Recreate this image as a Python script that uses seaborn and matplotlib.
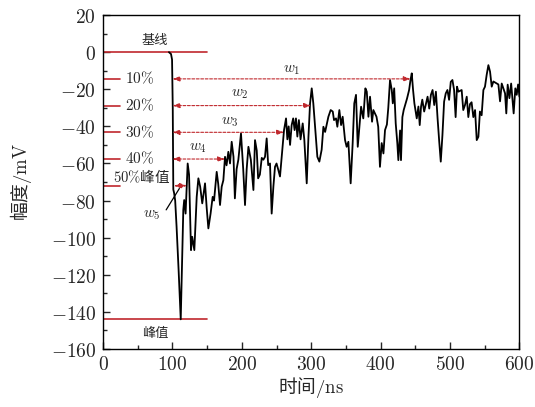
import numpy as np
import pandas as pd
import matplotlib
matplotlib.use("Agg")
import matplotlib.pyplot as plt
import seaborn as sns
from matplotlib.ticker import MultipleLocator, FuncFormatter

# signal (time in ns, amplitude in mV)
t_ns = [95, 98, 99.5, 100.5, 101.3, 102.5, 104, 106, 109, 112, 114, 115.7, 117, 119, 122, 124,
        126.8, 128.5, 131.6, 135, 137.4, 140, 143, 147, 149.4, 151.8, 155, 158, 160, 163.8, 166,
        168.6, 171, 173.4, 175.8, 178, 180.6, 183, 185.4, 188, 190, 192.5, 195, 198.8, 202, 204.6,
        207, 209.5, 213, 216.7, 219, 221.5, 223.5, 226, 228.7, 231, 233.4, 235.8, 238, 240.6, 243,
        245.5, 247.8, 250, 252.6, 255, 257.5, 260.8, 263.7, 265.6, 267.5, 269.5, 271.8, 274, 276,
        278, 280, 282.2, 284.6, 287.7, 290, 293.5, 296, 298.3, 300.7, 303, 305.5, 308.8, 311.7,
        315, 317.5, 320, 324.7, 328, 331, 332.8, 335.7, 337.6, 340.5, 343, 345.3, 348.7, 351,
        353.5, 356.8, 359.7, 362, 364.5, 367, 369.4, 371.8, 375, 378, 380, 382.4, 384.7, 387.6,
        389.5, 394, 396.5, 399, 401.5, 404, 406.3, 409, 411, 413.5, 416, 417.5, 419.5, 421.7, 424,
        425.5, 428, 429.3, 431.3, 433.2, 438, 441, 443, 444.8, 446.7, 448.6, 452, 454.4, 456.3,
        458.2, 460, 462.7, 467.6, 470, 472.4, 474.8, 477.2, 479.6, 482, 484.4, 486.6, 489, 491.4,
        493.8, 496.2, 498.6, 501, 503.4, 505.8, 508, 510, 512, 516.7, 519, 521.5, 524, 526.3,
        528.7, 531, 533.5, 536, 538.4, 540.8, 543, 545.5, 548, 550.3, 552.7, 555.2, 557.6, 560,
        562.4, 569.6, 572, 574.4, 579.2, 581, 583, 585.5, 588, 591.6, 594, 596, 598, 600]
amp_mv = [0, -1, -4, -30, -74, -76, -80, -94, -118, -144, -112, -85, -79.7, -87, -60, -66,
          -106.7, -99.5, -106.7, -78, -68, -72.5, -81.5, -70.7, -84, -95, -87, -78, -80, -64.5, -71,
          -82.4, -72.5, -69, -56.4, -61, -53.7, -60, -48.3, -56.4, -78.8, -63, -58, -43.8, -63, -82.4,
          -63, -51, -58, -74.3, -47.4, -53, -68, -66, -57, -58, -56.4, -46.5, -60.9, -60, -87,
          -72.3, -61.8, -60, -63.5, -67, -56.4, -42, -35.7, -47, -40, -50, -39.3, -35.7, -42,
          -35.7, -45.5, -36.6, -47, -38.4, -47, -70.7, -45.5, -27.6, -19.5, -27.6, -40, -56.4, -59,
          -52.6, -40.2, -43, -34.8, -31.2, -32, -36.6, -35.7, -40.2, -31.2, -39.3, -34.8, -47.4, -51,
          -48.3, -70.7, -49, -27.6, -23, -51, -40, -29.4, -35.7, -19.5, -21.3, -34.8, -24, -37.5,
          -31.2, -34.8, -40.2, -61.8, -49, -54.6, -42, -39, -30, -15, -20.4, -27.6, -19.5, -38.4, -49,
          -58.2, -42.2, -58.2, -35, -31.2, -25, -20.4, -15, -11.4, -20.4, -27.6, -35.7, -29.3, -39.3,
          -29.3, -25.6, -32, -24, -30.4, -23, -20.4, -28.5, -21.3, -35.7, -48.3, -59, -44.7, -26.7,
          -22.2, -20.4, -25.7, -16, -15, -20.4, -35, -18.6, -21.3, -20.4, -31.2, -28.5, -24, -35,
          -28, -27, -35, -31.2, -47.4, -45.6, -32, -34, -20.4, -18.6, -12.3, -7, -10.5, -18.6,
          -15.8, -17.4, -26.5, -16.9, -22.2, -33, -17.5, -24.8, -16.9, -33, -19.5, -23, -17.4, -24]

baseline = 0
peak = -144
level_names = ["10%", "20%", "30%", "40%"]
level_fracs = [0.1, 0.2, 0.3, 0.4]
width_ends = [443.5, 300, 261, 176]   # where each dashed width arrow meets the signal
w5_span = [102, 121]
width_labels = ["$w_1$", "$w_2$", "$w_3$", "$w_4$"]

sns.set_theme(style="ticks")
plt.rcParams["mathtext.fontset"] = "cm"
plt.rcParams["font.family"] = ["Noto Sans CJK SC", "DejaVu Sans"]

red = "#c0282d"
cjk = ["Noto Sans CJK SC", "DejaVu Sans"]

fig, ax = plt.subplots(figsize=(5.35, 4.07), dpi=100)
fig.subplots_adjust(left=0.1925, right=0.971, top=0.963, bottom=0.1425)

df = pd.DataFrame({"t": t_ns, "v": amp_mv})
sns.lineplot(data=df, x="t", y="v", ax=ax, color="black", lw=1.3, sort=False, zorder=3)

# baseline / peak marks
ax.plot([0, 150], [baseline, baseline], color=red, lw=1.2, zorder=2)
ax.plot([0, 150], [peak, peak], color=red, lw=1.2, zorder=2)
ax.text(75, 6.5, "基线", ha="center", va="center", fontsize=9.5, family=cjk)
ax.text(75, -151.5, "峰值", ha="center", va="center", fontsize=9.5, family=cjk)

def arrow(x0, x1, y):
    ax.annotate("", xy=(x1, y), xytext=(x0, y),
                arrowprops=dict(arrowstyle="<|-|>,head_length=0.35,head_width=0.12",
                                color=red, lw=0.8, ls=(0, (2.5, 1.5)),
                                shrinkA=0, shrinkB=0), zorder=4)

for name, frac, xe in zip(level_names, level_fracs, width_ends):
    y = peak * frac
    ax.plot([0, 25], [y, y], color=red, lw=1.2)
    ax.text(52, y, "$" + name.replace("%", r"\%") + "$", ha="center", va="center", fontsize=11)
    arrow(100, xe, y)

y50 = peak * 0.5
ax.plot([0, 25], [y50, y50], color=red, lw=1.2)
ax.text(55, -66.5, r"$50\%$峰值", ha="center", va="center", fontsize=10.5, family=cjk)
arrow(w5_span[0], w5_span[1], y50)

for lab, (x, y) in zip(width_labels, [(272, -8.6), (197, -22), (183, -36.6), (137, -51)]):
    ax.text(x, y, lab, ha="center", va="center", fontsize=11)
ax.text(70, -87, "$w_5$", ha="center", va="center", fontsize=11)
ax.plot([91, 110], [-85, -73.5], color="black", lw=0.9)

ax.set_xlim(0, 600)
ax.set_ylim(-160, 20)
ax.xaxis.set_major_locator(MultipleLocator(100))
ax.xaxis.set_minor_locator(MultipleLocator(50))
ax.yaxis.set_major_locator(MultipleLocator(20))
ax.yaxis.set_minor_locator(MultipleLocator(10))
fmt = FuncFormatter(lambda v, p: "$%d$" % round(v))
ax.xaxis.set_major_formatter(fmt)
ax.yaxis.set_major_formatter(fmt)
ax.tick_params(which="both", direction="in", top=False, right=False, labelsize=14)
ax.tick_params(which="major", length=5, width=1)
ax.tick_params(which="minor", length=3, width=1)
ax.tick_params(axis="y", pad=5)
for s in ax.spines.values():
    s.set_visible(True)
    s.set_linewidth(1.0)
    s.set_color("black")

ax.set_xlabel(r"时间$/\mathrm{ns}$", fontsize=13.5, family=cjk, labelpad=0)
ax.set_ylabel(r"幅度$/\mathrm{mV}$", fontsize=13.5, family=cjk, labelpad=12)

fig.savefig("out.png", dpi=100)
